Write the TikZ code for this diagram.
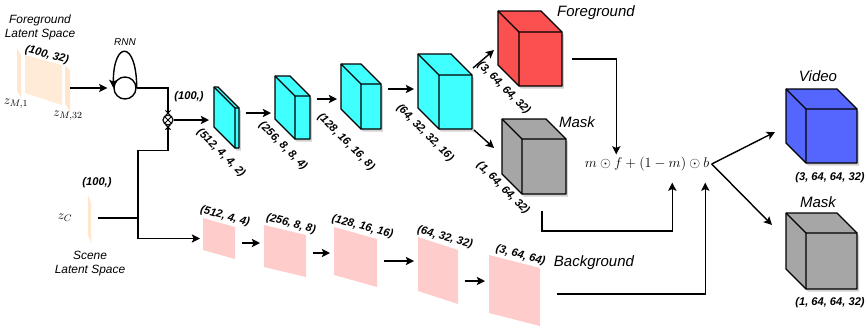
\documentclass[tikz,border=0pt]{standalone}
\usepackage[no-math]{fontspec}
\setmainfont{Liberation Sans}
\usepackage{tikz}
\usetikzlibrary{arrows.meta, calc, shapes.misc}
\definecolor{cyanbox}{HTML}{40FFFF}
\definecolor{redbox}{HTML}{FA5050}
\definecolor{bluebox}{HTML}{5566FF}
\definecolor{graybox}{HTML}{A6A6A6}
\definecolor{pinkslab}{HTML}{FFCCCC}
\definecolor{peach}{HTML}{FFE6CC}
\tikzstyle{arrow} = [line width=1.2pt, ->, >={Stealth[length=7pt, width=7pt, inset=1.5pt]}]
\tikzstyle{line} = [line width=1.2pt]
\tikzstyle{cubeline} = [line width=1.1pt, line join=round]
\tikzstyle{gap} = [shorten <=2mm, shorten >=1.2mm]
\tikzstyle{blockarea} = [rectangle, inner sep=0pt, outer sep=0pt]
\tikzstyle{title} = [font=\fontsize{12.8}{15}\selectfont\itshape]
\tikzstyle{subtitle} = [font=\fontsize{10.2}{12}\selectfont\itshape, align=center]
\tikzstyle{dims} = [font=\fontsize{9.5}{11}\selectfont\bfseries\itshape, inner sep=0pt]
\tikzstyle{latent} = [fill=peach]
\tikzstyle{product} = [draw, circle, line width=1pt, minimum size=0.3cm, inner sep=0pt,
path picture={\draw[line width=0.8pt] (path picture bounding box.north west) -- (path picture bounding box.south east)
(path picture bounding box.north east) -- (path picture bounding box.south west);}]
\tikzstyle{crossmark} = [draw, cross out, line width=0.8pt, minimum size=0.12cm, inner sep=0pt]
\tikzset{boxsize/.style 2 args={minimum width=#1*0.03cm, minimum height=#2*0.03cm}}
\tikzset{slab/.style={rectangle, inner sep=0pt, outer sep=0pt, path picture={
\fill[pinkslab] (path picture bounding box.north west) -- ($(path picture bounding box.north east)+(0,#1)$)
-- (path picture bounding box.south east) -- ($(path picture bounding box.south west)+(0,-#1)$) -- cycle;}}}
% cube drawn over a blockarea node: node name, depth, colour
\newcommand{\drawcube}[3]{%
\begin{scope}[transform canvas={xshift=1.7pt, yshift=-2.2pt}]
\fill[black, opacity=0.18] (#1.north west) -- ($(#1.north east)+(-#2,0)$) -- ($(#1.north east)+(0,#2)$)
-- (#1.south east) -- ($(#1.south west)+(#2,0)$) -- ($(#1.south west)+(0,-#2)$) -- cycle;
\end{scope}
\draw[cubeline, fill=#3] (#1.north west) -- ($(#1.north east)+(-#2,0)$) -- ($(#1.north east)+(0,#2)$)
-- (#1.south east) -- ($(#1.south west)+(#2,0)$) -- ($(#1.south west)+(0,-#2)$) -- cycle;
\draw[cubeline] (#1.north west) -- ($(#1.north west)+(#2,#2)$) -- ($(#1.north east)+(0,#2)$)
($(#1.north west)+(#2,#2)$) -- ($(#1.south west)+(#2,0)$);
}
\begin{document}
\begin{tikzpicture}[x=0.03cm, y=-0.03cm]
\useasboundingbox (0,0) rectangle (865,326);

% latent spaces
\fill[latent] (17,48) -- (21,55) -- (21,98) -- (17,90) -- cycle;
\fill[latent, opacity=0.8] (25,55) -- (62,65) -- (62,105) -- (25,93) -- cycle;
\fill[latent] (65,65) -- (70,70) -- (70,112) -- (65,103) -- cycle;
\fill[latent] (88,195) -- (91,203) -- (91,243) -- (88,235) -- cycle;
\node[blockarea, boxsize={53}{64}] (zm) at (43.5,80) {};
\node[blockarea, boxsize={3}{48}] (zc) at (89.5,218) {};
\node[subtitle] (fgtext) at (40,27) {Foreground\\Latent Space};
\node[dims, rotate=-15] (fgdim) at (47,55) {(100, 32)};
\node (zmfirst) at (16,104) {\fontsize{11}{13}\selectfont$z_{M,1}$};
\node (zmlast) at (68,116) {\fontsize{11}{13}\selectfont$z_{M,32}$};
\node (zctext) at (65,218) {\fontsize{11}{13}\selectfont$z_C$};
\node[dims] (zcdim) at (97,183) {(100,)};
\node[subtitle] (scenetext) at (90,264) {Scene\\Latent Space};

% rnn and product
\node[draw, circle, line width=1.2pt, minimum size=22*0.03cm, inner sep=0pt] (rnn) at (125,88) {};
\node[font=\fontsize{8.5}{10}\selectfont\itshape] (rnntext) at (125,42) {RNN};
\node[product] (mult) at (168,120) {};
\node[crossmark] (xtop) at ($(mult.north)+(0,-1.5)$) {};
\node[crossmark] (xbot) at ($(mult.south)+(0,1.5)$) {};
\node[dims] (rnndim) at (189,97) {(100,)};
\coordinate (split) at (138,218);

% foreground generator
\node[blockarea, boxsize={25}{61}] (box1) at (226.5,117.5) {};
\node[blockarea, boxsize={35}{63}] (box2) at (292.5,107.5) {};
\node[blockarea, boxsize={40}{65}] (box3) at (361,96.5) {};
\node[blockarea, boxsize={54}{75}] (box4) at (445,91.5) {};
\node[blockarea, boxsize={64}{75}] (fg) at (530,48.5) {};
\node[blockarea, boxsize={64}{75}] (mask) at (534,156.5) {};
\drawcube{box1}{21}{cyanbox}
\drawcube{box2}{20}{cyanbox}
\drawcube{box3}{20}{cyanbox}
\drawcube{box4}{21}{cyanbox}
\drawcube{fg}{21}{redbox}
\drawcube{mask}{20}{graybox}
\node[dims, rotate=-45] (dim1) at (221,153) {(512, 4, 4, 2)};
\node[dims, rotate=-45] (dim2) at (283,146) {(256, 8, 8, 4)};
\node[dims, rotate=-45] (dim3) at (346,142) {(128, 16, 16, 8)};
\node[dims, rotate=-45] (dim4) at (425,133) {(64, 32, 32, 16)};
\node[dims, rotate=-45] (fgdims) at (504,88) {(3, 64, 64, 32)};
\node[dims, rotate=-45] (maskdims) at (503,188) {(1, 64, 64, 32)};
\node[title] (fgtitle) at (596,13) {Foreground};
\node[title] (masktitle) at (577,122) {Mask};

% background generator
\node[slab=9, boxsize={32}{41}] (bg1) at (219,238.5) {};
\node[slab=10, boxsize={42}{52}] (bg2) at (285,251) {};
\node[slab=12, boxsize={43}{60}] (bg3) at (355.5,257) {};
\node[slab=13, boxsize={40}{67}] (bg4) at (438,270.5) {};
\node[slab=13, boxsize={51}{71}] (bg5) at (514.5,290.5) {};
\node[dims, rotate=-15] (bgdim1) at ($(bg1.north)+(6,-1.5)$) {(512, 4, 4)};
\node[dims, rotate=-15] (bgdim2) at ($(bg2.north)+(6,-1)$) {(256, 8, 8)};
\node[dims, rotate=-15] (bgdim3) at ($(bg3.north)+(7,0)$) {(128, 16, 16)};
\node[dims, rotate=-15] (bgdim4) at ($(bg4.north)+(7,0.5)$) {(64, 32, 32)};
\node[dims, rotate=-15] (bgdim5) at ($(bg5.north)+(6,0.5)$) {(3, 64, 64)};
\node[title] (bgtitle) at (594,263) {Background};

% composition and output
\node[inner sep=2pt] (formula) at (647,164) {\fontsize{12.4}{14}\selectfont$m\odot f+(1-m)\odot b$};
\node[blockarea, boxsize={71}{74}] (video) at (821.5,126) {};
\node[blockarea, boxsize={71}{76}] (outmask) at (821.5,251) {};
\drawcube{video}{20}{bluebox}
\drawcube{outmask}{20}{graybox}
\node[title] (videotitle) at (818,76) {Video};
\node[title] (outmasktitle) at (818,202) {Mask};
\node[dims] (videodims) at (830,178) {(3, 64, 64, 32)};
\node[dims] (outmaskdims) at (830,303) {(1, 64, 64, 32)};

\draw[arrow, shorten >=1.8mm] (zm.east |- rnn) -- (rnn.west);
\draw[arrow] (rnn.east) .. controls +(0,-48) and +(0,-48) .. (rnn.west);
\draw[line] (rnn.east) -| (mult.north);
\draw[arrow, shorten >=1.5mm] (mult.east) -- (mult -| box1.west);
\draw[line, shorten <=2mm] (zc.east) -- (split);
\draw[arrow, shorten >=0.9mm] (mult.south) -- ++(0,25) -| (split) |- (bg1.west);
\draw[arrow, gap] ($(box1.east)+(0,-4.5)$) -- ($(box2.west)+(0,5.5)$);
\draw[arrow, gap] ($(box2.east)+(0,-8.5)$) -- ($(box3.west)+(0,2.5)$);
\draw[arrow, gap] ($(box3.east)+(0,-7.5)$) -- ($(box4.west)+(0,-2.5)$);
\draw[arrow] ($(box4.north east)+(1,14)$) -- ($(fg.west)+(-4,1.5)$);
\draw[arrow] ($(box4.south east)+(2,1)$) -- ($(mask.west)+(-8,-8.5)$);
\draw[arrow, gap] ($(bg1.east)+(0,4.5)$) -- ($(bg2.west)+(0,-8)$);
\draw[arrow, gap] ($(bg2.east)+(0,2)$) -- ($(bg3.west)+(0,-4)$);
\draw[arrow, gap] ($(bg3.east)+(0,4)$) -- ($(bg4.west)+(0,-9.5)$);
\draw[arrow, gap] ($(bg4.east)+(0,10.5)$) -- ($(bg5.west)+(0,-9.5)$);
\draw[arrow] ($(fg.east)+(10,10.5)$) -| ($(formula.north west)+(34,0)$);
\draw[arrow] ($(mask.south)+(8,17)$) -- ++(0,20) -| ($(formula.south west)+(90,9)$);
\draw[arrow] ($(bg5.east)+(17,3.5)$) -| ($(formula.south west)+(123,9)$);
\draw[arrow] (formula.east) -- ($(video.west)+(-11,6)$);
\draw[arrow] (formula.east) -- ($(outmask.west)+(-14,-26)$);

\end{tikzpicture}
\end{document}
